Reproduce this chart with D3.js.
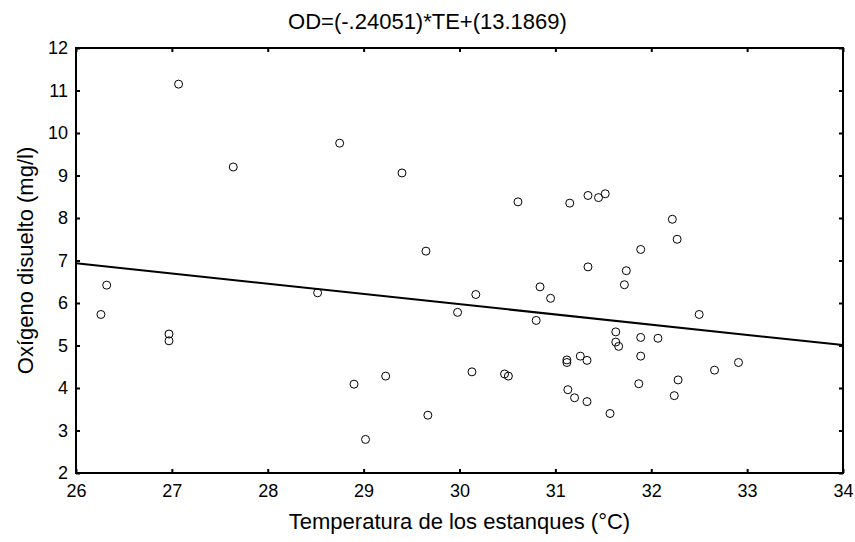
<!DOCTYPE html>
<html>
<head>
<meta charset="utf-8">
<script src="https://cdn.jsdelivr.net/npm/d3@7"></script>
<style>
  body { margin: 0; background: #fff; }
  text { font-family: "Liberation Sans", Arial, sans-serif; fill: #000; }
</style>
</head>
<body>
<div id="chart"></div>
<script>
// temperatura (°C) and oxigeno disuelto (mg/l)
const temp = [27.07, 27.64, 28.75, 29.40, 30.61, 31.15, 31.34, 31.45, 31.52, 32.22,
  32.27, 29.65, 31.89, 31.34, 31.74, 31.72, 30.84, 30.95, 30.17, 29.98,
  30.80, 31.63, 31.89, 32.07, 31.63, 31.66, 31.89, 31.26, 31.33, 31.12,
  31.12, 29.23, 30.13, 30.47, 30.51, 31.13, 31.20, 31.33, 31.57, 31.87,
  32.24, 32.28, 29.67, 32.50, 26.32, 26.26, 26.97, 26.97, 28.52, 28.90,
  29.02, 32.91, 32.66];
const oxig = [11.15, 9.20, 9.76, 9.06, 8.38, 8.35, 8.53, 8.48, 8.57, 7.97,
  7.50, 7.22, 7.26, 6.85, 6.76, 6.43, 6.38, 6.11, 6.20, 5.78,
  5.59, 5.32, 5.19, 5.17, 5.08, 4.98, 4.75, 4.75, 4.65, 4.66,
  4.60, 4.28, 4.38, 4.33, 4.28, 3.96, 3.77, 3.68, 3.40, 4.10,
  3.82, 4.19, 3.36, 5.73, 6.42, 5.73, 5.27, 5.11, 6.24, 4.09,
  2.79, 4.60, 4.42];
const xTicks = [26, 27, 28, 29, 30, 31, 32, 33, 34];
const yTicks = [2, 3, 4, 5, 6, 7, 8, 9, 10, 11, 12];
const slope = -0.24051, intercept = 13.1869;

const width = 855, height = 542;
const margin = {top: 48, right: 12, bottom: 69, left: 76};

const svg = d3.select("#chart").append("svg")
  .attr("width", width)
  .attr("height", height);

const x = d3.scaleLinear().domain([26, 34]).range([margin.left, width - margin.right]);
const y = d3.scaleLinear().domain([2, 12]).range([height - margin.bottom, margin.top]);

// frame
svg.append("rect")
  .attr("x", x(26)).attr("y", y(12))
  .attr("width", x(34) - x(26)).attr("height", y(2) - y(12))
  .attr("fill", "none").attr("stroke", "#000").attr("stroke-width", 2);

// axes with ticks pointing inward, labels on bottom/left
svg.append("g").attr("transform", `translate(0,${y(2)})`)
  .call(d3.axisBottom(x).tickValues(xTicks).tickSizeInner(-4).tickSizeOuter(0).tickPadding(11))
  .call(g => g.select(".domain").remove());
svg.append("g").attr("transform", `translate(${x(26)},0)`)
  .call(d3.axisLeft(y).tickValues(yTicks).tickSizeInner(-4).tickSizeOuter(0).tickPadding(8))
  .call(g => g.select(".domain").remove());
svg.append("g").attr("transform", `translate(0,${y(12)})`)
  .call(d3.axisTop(x).tickValues(xTicks).tickSizeInner(-4).tickSizeOuter(0).tickFormat(""))
  .call(g => g.select(".domain").remove());
svg.append("g").attr("transform", `translate(${x(34)},0)`)
  .call(d3.axisRight(y).tickValues(yTicks).tickSizeInner(-4).tickSizeOuter(0).tickFormat(""))
  .call(g => g.select(".domain").remove());

svg.selectAll(".tick line").attr("stroke", "#000").attr("stroke-width", 2);
svg.selectAll(".tick text")
  .style("font-family", "'Liberation Sans', Arial, sans-serif")
  .style("font-size", "18px").attr("fill", "#000");

// regression line
const lineData = [26, 34].map(t => [t, slope * t + intercept]);
svg.append("path")
  .datum(lineData)
  .attr("d", d3.line().x(d => x(d[0])).y(d => y(d[1])))
  .attr("fill", "none").attr("stroke", "#000").attr("stroke-width", 2);

// points
svg.append("g").selectAll("circle")
  .data(temp.map((t, i) => ({t: t, o: oxig[i]})))
  .join("circle")
  .attr("cx", d => x(d.t))
  .attr("cy", d => y(d.o))
  .attr("r", 4)
  .attr("fill", "none")
  .attr("stroke", "#000")
  .attr("stroke-width", 1);

// titles
svg.append("text")
  .attr("x", width / 2).attr("y", 29)
  .attr("text-anchor", "middle").style("font-size", "22px")
  .text("OD=(-.24051)*TE+(13.1869)");
svg.append("text")
  .attr("x", (x(26) + x(34)) / 2).attr("y", 529)
  .attr("text-anchor", "middle").style("font-size", "22px")
  .text("Temperatura de los estanques (°C)");
svg.append("text")
  .attr("transform", `translate(33,${(y(2) + y(12)) / 2}) rotate(-90)`)
  .attr("text-anchor", "middle").style("font-size", "22px")
  .text("Oxígeno disuelto (mg/l)");
</script>
</body>
</html>
